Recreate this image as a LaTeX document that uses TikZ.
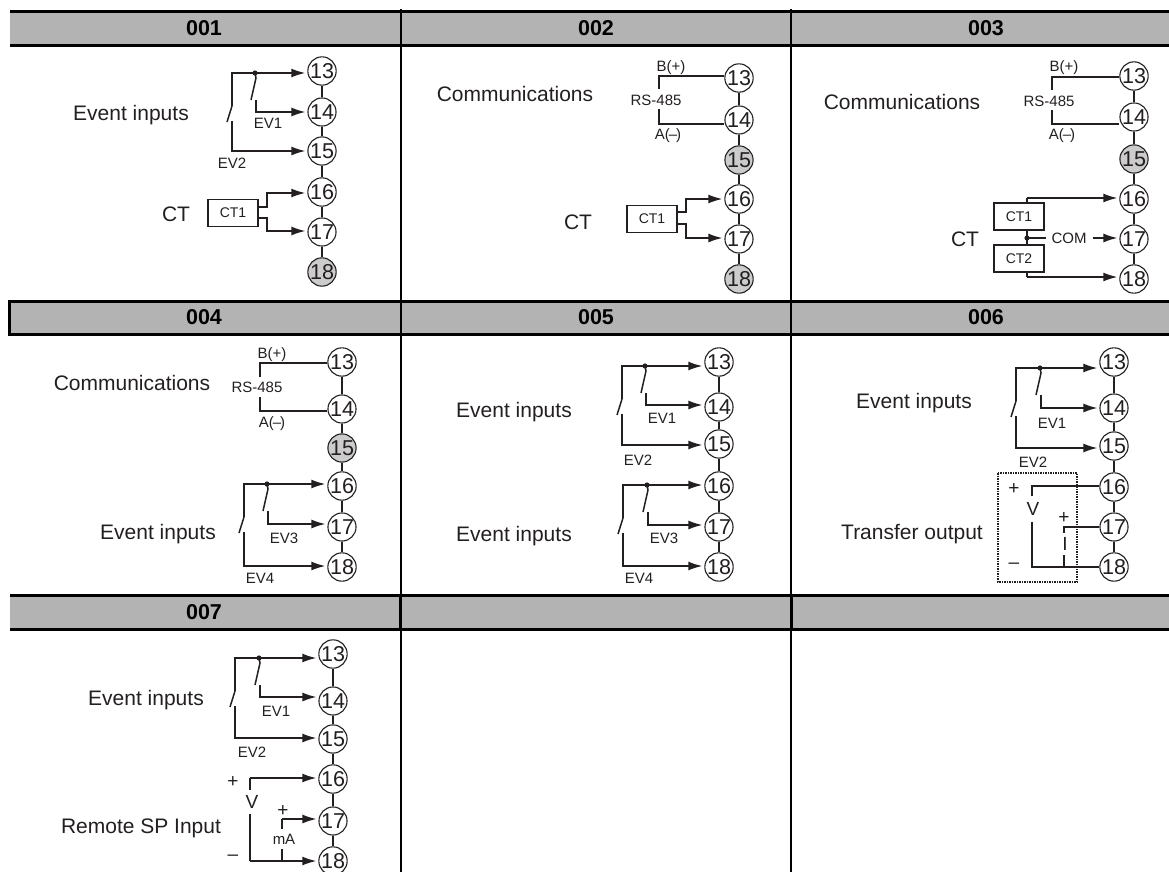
\documentclass[tikz,border=0pt]{standalone}
\usepackage{fontspec}
\setmainfont{Liberation Sans}
\usetikzlibrary{arrows.meta}
\definecolor{headgray}{HTML}{B3B3B3}
\definecolor{termgray}{HTML}{CCCCCC}
\definecolor{ink}{HTML}{231F20}
\tikzset{
  rule/.style={line width=3pt,draw=black},
  divider/.style={line width=2pt,draw=black},
  headtext/.style={font=\fontsize{21.5}{25}\selectfont\bfseries,text=black,inner sep=0},
  lab/.style={font=\fontsize{21}{25}\selectfont,text=ink,inner sep=0},
  small/.style={font=\fontsize{15}{18}\selectfont,text=ink,inner sep=0},
  sign/.style={font=\fontsize{19}{22}\selectfont,text=ink,inner sep=0},
  terminal/.style={circle,draw=ink,line width=1.1pt,minimum size=26.5pt,inner sep=0,
    font=\fontsize{21.5}{24}\selectfont,text=ink},
  termlink/.style={line width=2.4pt,draw=ink},
  wire/.style={line width=1.5pt,draw=ink},
  arrowwire/.style={wire,-{Latex[length=14pt,width=9pt]},shorten >=2pt},
  ctbox/.style={draw=ink,line width=1.5pt,minimum width=50pt,minimum height=27pt,inner sep=0,
    font=\fontsize{14}{17}\selectfont,text=ink},
}
% column of terminals: prefix, x, list of number/y/fill
\newcommand{\termcol}[3]{%
  \foreach \n/\y/\f in {#3}
    \node[terminal,fill=\f] (#1\n) at (#2,\y) {\n};
  \foreach \p/\q in {13/14,14/15,15/16,16/17,17/18}
    \draw[termlink] (#1\p) -- (#1\q);
}
% two switches: three terminals, corner x, tap x, top y, mid y, low y
\newcommand{\evswitches}[8]{%
  \coordinate (corner) at (#4,#6);
  \coordinate (tap) at (#5,#6);
  \coordinate (midw) at (#5+1,#7);
  \coordinate (loww) at (#4,#8);
  \draw[arrowwire] ([yshift=-33pt]corner) -- (corner) -- (corner -| #1.west);
  \draw[wire] ([yshift=-33pt]corner) -- ([xshift=-5pt,yshift=-49pt]corner);
  \draw[arrowwire] ([yshift=-48pt]corner) -- (loww) -- (loww -| #3.west);
  \fill[ink] (tap) circle [radius=2.6];
  \draw[wire] (tap) -- ([xshift=1pt,yshift=-5pt]tap) -- ([xshift=-4pt,yshift=-27pt]tap);
  \draw[arrowwire] ([xshift=1pt,yshift=-27pt]tap) -- (midw) -- (midw -| #2.west);
}
% RS-485 pair: two terminals, x, top y, gap start, gap end, low y
\newcommand{\rspair}[7]{%
  \coordinate (rsb) at (#3,#4);
  \coordinate (rsa) at (#3,#7);
  \draw[wire] (#3,#5) -- (rsb) -- (rsb -| #1.west);
  \draw[wire] (#3,#6) -- (rsa) -- (rsa -| #2.west);
}
\begin{document}
\begin{tikzpicture}[x=1pt,y=-1pt]
  \useasboundingbox (0,0) rectangle (1169,872);
  % header bands
  \fill[headgray] (10,11.5) rectangle (1169,45.5);
  \fill[headgray] (9.5,301) rectangle (1169,334);
  \fill[headgray] (10,595.5) rectangle (1169,629.5);
  \draw[rule] (10,11.5) -- (1169,11.5) (10,45.5) -- (1169,45.5);
  \draw[rule] (1169,301) -- (9.5,301) -- (9.5,334) -- (1169,334);
  \draw[rule] (10,595.5) -- (1169,595.5) (10,629.5) -- (1169,629.5);
  \draw[divider] (401,9) -- (401,872) (791,9) -- (791,872);
  \draw[rule] (400.5,595.5) -- (400.5,629.5) (791,595.5) -- (791,629.5);
  \node[headtext] (h1) at (204,28.5) {001};
  \node[headtext] (h2) at (596,28.5) {002};
  \node[headtext] (h3) at (986,28.5) {003};
  \node[headtext] (h4) at (204,317.5) {004};
  \node[headtext] (h5) at (596,317.5) {005};
  \node[headtext] (h6) at (986,317.5) {006};
  \node[headtext] (h7) at (204,612) {007};

  % 001
  \termcol{a}{322}{13/71/white,14/112/white,15/151/white,16/192/white,17/232/white,18/272/termgray}
  \evswitches{a13}{a14}{a15}{232}{255}{73}{112}{151}
  \node[lab] (aev) at (131,115) {Event inputs};
  \node[small] (aev1) at (268,123) {EV1};
  \node[small] (aev2) at (232,163) {EV2};
  \node[lab] (act) at (176,214) {CT};
  \node[ctbox] (actbox) at (233,213) {CT1};
  \coordinate (aup) at (267,193);
  \coordinate (alow) at (267,231);
  \draw[arrowwire] ([yshift=6pt]actbox.east) -| (aup) -- (aup -| a16.west);
  \draw[arrowwire] ([yshift=-5pt]actbox.east) -| (alow) -- (alow -| a17.west);

  % 002
  \termcol{b}{739}{13/78/white,14/120/white,15/160/termgray,16/199/white,17/239/white,18/279/termgray}
  \rspair{b13}{b14}{659}{76}{89}{109}{124}
  \node[lab] (bcom) at (515,94) {Communications};
  \node[small] (bbp) at (671,68) {B(+)};
  \node[small] (brs) at (656,100) {RS-485};
  \node[small] (bam) at (668,136) {A(\kern-1pt--\kern-1pt)};
  \node[lab] (bct) at (578,222) {CT};
  \node[ctbox] (bctbox) at (652,219) {CT1};
  \coordinate (bup) at (686,199);
  \coordinate (blow) at (686,238);
  \draw[arrowwire] ([yshift=7pt]bctbox.east) -| (bup) -- (bup -| b16.west);
  \draw[arrowwire] ([yshift=-5pt]bctbox.east) -| (blow) -- (blow -| b17.west);

  % 003
  \termcol{c}{1134}{13/76/white,14/117/white,15/159/termgray,16/199/white,17/239/white,18/279/white}
  \rspair{c13}{c14}{1052}{77}{90}{110}{124}
  \node[lab] (ccom) at (902,102) {Communications};
  \node[small] (cbp) at (1064,68) {B(+)};
  \node[small] (crs) at (1049,101) {RS-485};
  \node[small] (cam) at (1062,136) {A(\kern-1pt--\kern-1pt)};
  \node[lab] (cct) at (965,239) {CT};
  \node[ctbox] (cctone) at (1019,216.5) {CT1};
  \node[ctbox] (ccttwo) at (1019,258.5) {CT2};
  \coordinate (ctop) at (1027,198);
  \coordinate (cbot) at (1027,277);
  \coordinate (cdot) at (1027,238);
  \draw[wire] (ctop |- cctone.north) -- (ctop);
  \draw[arrowwire] (ctop) -- (ctop -| c16.west);
  \draw[wire] (cbot |- ccttwo.south) -- (cbot);
  \draw[arrowwire] (cbot) -- (cbot -| c18.west);
  \draw[wire] (cdot |- cctone.south) -- (cdot |- ccttwo.north);
  \fill[ink] (cdot) circle [radius=2.6];
  \node[small] (ccomlab) at (1069,238) {COM};
  \draw[wire,shorten >=5pt] (cdot) -- (ccomlab.west);
  \draw[arrowwire] (ccomlab.east) ++(6,0) -- (ccomlab.east -| c17.west);

  % 004
  \termcol{d}{342}{13/362/white,14/409/white,15/448/termgray,16/486/white,17/527/white,18/567/white}
  \rspair{d13}{d14}{260}{363}{377}{397}{411}
  \evswitches{d16}{d17}{d18}{244}{267}{484}{524}{566}
  \node[lab] (dcom) at (132,383) {Communications};
  \node[small] (dbp) at (272,355) {B(+)};
  \node[small] (drs) at (257,387) {RS-485};
  \node[small] (dam) at (272,424) {A(\kern-1pt--\kern-1pt)};
  \node[lab] (dev) at (158,534) {Event inputs};
  \node[small] (dev3) at (284,538) {EV3};
  \node[small] (dev4) at (260,578) {EV4};

  % 005
  \termcol{e}{719}{13/362/white,14/407/white,15/444/white,16/486/white,17/527/white,18/567/white}
  \evswitches{e13}{e14}{e15}{622}{645}{366}{405}{445}
  \evswitches{e16}{e17}{e18}{623}{647}{485}{525}{566}
  \node[lab] (eevone) at (514,412) {Event inputs};
  \node[small] (eev1) at (662,418) {EV1};
  \node[small] (eev2) at (638,460) {EV2};
  \node[lab] (eevtwo) at (514,536) {Event inputs};
  \node[small] (eev3) at (664,538) {EV3};
  \node[small] (eev4) at (639,578) {EV4};

  % 006
  \termcol{f}{1114}{13/362/white,14/408/white,15/446/white,16/487/white,17/527/white,18/567/white}
  \evswitches{f13}{f14}{f15}{1016}{1040}{368}{408}{448}
  \node[lab] (fev) at (914,403) {Event inputs};
  \node[small] (fev1) at (1052,423) {EV1};
  \node[small] (fev2) at (1033,462) {EV2};
  \node[lab] (ftr) at (912,534) {Transfer output};
  \draw[line width=1.5pt,draw=ink,densely dotted] (998,473) rectangle (1077,582);
  \node[sign] (fplus) at (1014,489) {+};
  \node[sign] (fminus) at (1014,566) {--};
  \node[sign,minimum height=25pt] (fv) at (1033,509) {V};
  \node[sign,minimum height=22pt] (fi) at (1065,544) {I};
  \node[sign] (fplusi) at (1064,518) {+};
  \coordinate (fvtop) at (1032,486);
  \coordinate (fvbot) at (1032,567);
  \coordinate (fibot) at (1064,567);
  \coordinate (fitop) at (1064,527);
  \draw[wire] (fvtop |- fv.north) -- (fvtop) -- (fvtop -| f16.west);
  \draw[wire] (fvbot |- fv.south) -- (fvbot) -- (fvbot -| f18.west);
  \draw[wire] (fibot) -- (fibot |- fi.south);
  \draw[wire] (fitop |- fi.north) -- (fitop) -- (fitop -| f17.west);

  % 007
  \termcol{g}{333}{13/654/white,14/701/white,15/739/white,16/779/white,17/821/white,18/861/white}
  \evswitches{g13}{g14}{g15}{235}{259}{658}{697}{738}
  \node[lab] (gev) at (146,700) {Event inputs};
  \node[small] (gev1) at (276,711) {EV1};
  \node[small] (gev2) at (252,752) {EV2};
  \node[lab] (grem) at (141,828) {Remote SP Input};
  \node[sign] (gplus) at (233,782) {+};
  \node[sign] (gminus) at (233,858) {--};
  \node[sign,minimum height=24pt] (gv) at (252,802) {V};
  \node[small,minimum height=19pt] (gma) at (284,839) {mA};
  \node[sign] (gplusi) at (283,811) {+};
  \coordinate (gvtop) at (250,778);
  \coordinate (gvbot) at (250,861);
  \coordinate (gmbot) at (282,861);
  \coordinate (gmtop) at (282,819);
  \draw[wire] (gvtop |- gv.north) -- (gvtop);
  \draw[arrowwire] (gvtop) -- (gvtop -| g16.west);
  \draw[wire] (gvbot |- gv.south) -- (gvbot);
  \draw[arrowwire] (gvbot) -- (gvbot -| g18.west);
  \draw[wire] (gmbot) -- (gmbot |- gma.south);
  \draw[wire] (gmtop |- gma.north) -- (gmtop);
  \draw[arrowwire] (gmtop) -- (gmtop -| g17.west);
\end{tikzpicture}
\end{document}
